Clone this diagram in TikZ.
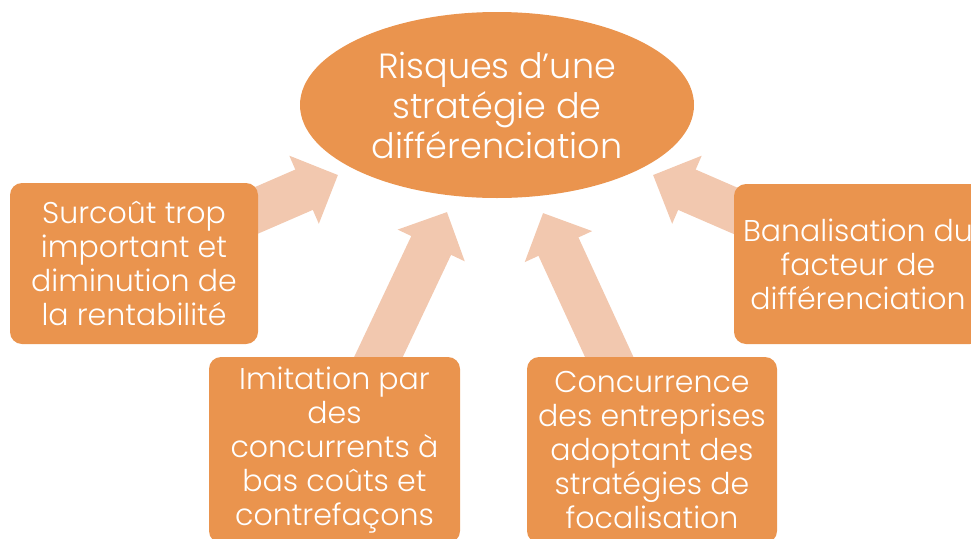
\documentclass[tikz,border=0pt]{standalone}
\usepackage{fontspec}
\setmainfont{Poppins Light}
\usetikzlibrary{arrows.meta,shapes.geometric,backgrounds}
\definecolor{riskorange}{RGB}{234,148,78}
\definecolor{riskpeach}{RGB}{242,200,175}
\begin{document}
\begin{tikzpicture}[x=1pt,y=-1pt,
  box/.style={fill=riskorange, rounded corners=12pt, text=white, align=center,
    font=\fontsize{30}{34}\selectfont, inner sep=0pt},
  hub/.style={ellipse, fill=riskorange, text=white, align=center,
    font=\fontsize{35}{40}\selectfont, inner sep=0pt,
    minimum width=394pt, minimum height=186pt},
  flow/.style={draw=riskpeach, line width=44pt,
    -{Triangle[length=37pt,width=72pt]}},
]
\useasboundingbox (0,0) rectangle (971,538);
\clip (0,0) rectangle (971,538);

% central question
\node[hub] (risk) at (497,105) {Risques d’une\\stratégie de\\différenciation};

% the four risks
\node[box, minimum width=248pt, minimum height=161pt] (cost) at (134,263.5)
  {Surcoût trop\\important et\\diminution de\\la rentabilité};
\node[box, minimum width=251pt, minimum height=186pt] (imit) at (334.5,450)
  {Imitation par\\des\\concurrents à\\bas coûts et\\contrefaçons};
\node[box, minimum width=250pt, minimum height=186pt] (focus) at (652,450)
  {Concurrence\\des entreprises\\adoptant des\\stratégies de\\focalisation};
\node[box, minimum width=248pt, minimum height=160pt] (banal) at (858,264)
  {Banalisation du\\facteur de\\différenciation};

% arrow tips just outside the ellipse
\coordinate (tcost) at (338,175);
\coordinate (timit) at (447,212);
\coordinate (tfocus) at (543,213);
\coordinate (tbanal) at (653,175);

\begin{scope}[on background layer]
  \draw[flow] (cost.center) -- (tcost);
  \draw[flow] (imit.center) -- (timit);
  \draw[flow] (focus.center) -- (tfocus);
  \draw[flow] (banal.center) -- (tbanal);
\end{scope}
\end{tikzpicture}
\end{document}
